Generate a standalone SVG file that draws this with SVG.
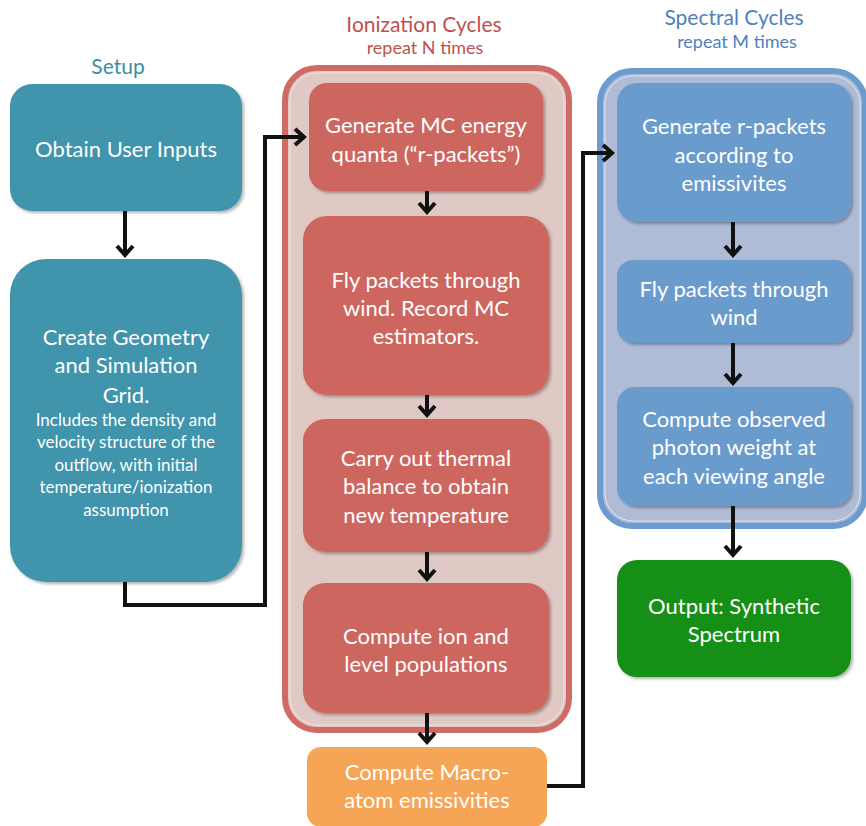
<svg xmlns="http://www.w3.org/2000/svg" width="866" height="826" viewBox="0 0 866 826">
<defs>
<filter id="sh" x="-10%" y="-10%" width="120%" height="120%">
<feDropShadow dx="2" dy="2" stdDeviation="1.5" flood-color="#000" flood-opacity="0.3"/>
</filter>
<marker id="arr" markerUnits="userSpaceOnUse" markerWidth="24" markerHeight="24" viewBox="-12 -12 24 24" refX="1" refY="0" orient="auto">
<path d="M-9,-8 L0,0 L-9,8" fill="none" stroke="#111" stroke-width="4"/>
</marker>
</defs>
<style>
text{font-family:Lato,"Liberation Sans",sans-serif;fill:#fff;text-anchor:middle}
.t{font-size:22px}
.s{font-size:17px}
.h{font-size:21px}
.sub{font-size:18px}
.c{fill:none;stroke:#111;stroke-width:4}
.teal{fill:#4094ac}
.red{fill:#cd665f}
.blue{fill:#6b9bcd}
</style>
<g id="labels">
<text class="h" x="118" y="74" style="fill:#3d8ea3">Setup</text>
<text class="h" x="424" y="32" style="fill:#c0504d">Ionization Cycles</text>
<text class="sub" x="425" y="54" style="fill:#c0504d">repeat N times</text>
<text class="h" x="734" y="25" style="fill:#4f81bd">Spectral Cycles</text>
<text class="sub" x="737" y="48" style="fill:#4f81bd">repeat M times</text>
</g>
<g id="ionization-container">
<rect x="285" y="68" width="284" height="662" rx="32" fill="#e0c9c4" stroke="#cf6b64" stroke-width="6"/>
<rect x="290" y="73" width="274" height="652" rx="28" fill="none" stroke="#f2e4e1" stroke-width="1"/>
</g>
<g id="spectral-container">
<rect x="600" y="71" width="265" height="455" rx="32" fill="#b0bcd6" stroke="#6c9bd0" stroke-width="6"/>
<rect x="605" y="76" width="255" height="445" rx="28" fill="none" stroke="#dfe5f0" stroke-width="1"/>
</g>
<g id="connectors">
<line class="c" x1="125" y1="211" x2="125" y2="256" marker-end="url(#arr)"/>
<polyline class="c" points="125,582 125,605 265,605 265,137 305,137" marker-end="url(#arr)"/>
<line class="c" x1="427" y1="191" x2="427" y2="213" marker-end="url(#arr)"/>
<line class="c" x1="427" y1="395" x2="427" y2="416" marker-end="url(#arr)"/>
<line class="c" x1="427" y1="552" x2="427" y2="580" marker-end="url(#arr)"/>
<line class="c" x1="427" y1="713" x2="427" y2="743" marker-end="url(#arr)"/>
<polyline class="c" points="547,786 583,786 583,153 613,153" marker-end="url(#arr)"/>
<line class="c" x1="733" y1="222" x2="733" y2="256" marker-end="url(#arr)"/>
<line class="c" x1="733" y1="343" x2="733" y2="384" marker-end="url(#arr)"/>
<line class="c" x1="733" y1="506" x2="733" y2="556" marker-end="url(#arr)"/>
</g>
<g id="obtain-inputs">
<rect class="teal" x="10" y="84" width="232" height="127" rx="22" filter="url(#sh)"/>
<text class="t" x="126" y="157">Obtain User Inputs</text>
</g>
<g id="create-geometry">
<rect class="teal" x="10" y="259" width="232" height="323" rx="36" filter="url(#sh)"/>
<text class="t" x="126" y="345">Create Geometry</text>
<text class="t" x="126" y="373">and Simulation</text>
<text class="t" x="126" y="403">Grid.</text>
<text class="s" x="126" y="426">Includes the density and</text>
<text class="s" x="126" y="448">velocity structure of the</text>
<text class="s" x="126" y="471">outflow, with initial</text>
<text class="s" x="126" y="493">temperature/ionization</text>
<text class="s" x="126" y="516">assumption</text>
</g>
<g id="generate-mc">
<rect class="red" x="309" y="83" width="234" height="108" rx="18" filter="url(#sh)"/>
<text class="t" x="426" y="133">Generate MC energy</text>
<text class="t" x="426" y="162">quanta (“r-packets”)</text>
</g>
<g id="fly-packets">
<rect class="red" x="303" y="216" width="246" height="179" rx="24" filter="url(#sh)"/>
<text class="t" x="426" y="288">Fly packets through</text>
<text class="t" x="426" y="316">wind. Record MC</text>
<text class="t" x="426" y="344">estimators.</text>
</g>
<g id="thermal-balance">
<rect class="red" x="303" y="419" width="246" height="133" rx="22" filter="url(#sh)"/>
<text class="t" x="426" y="466">Carry out thermal</text>
<text class="t" x="426" y="494">balance to obtain</text>
<text class="t" x="426" y="523">new temperature</text>
</g>
<g id="ion-populations">
<rect class="red" x="303" y="583" width="246" height="130" rx="22" filter="url(#sh)"/>
<text class="t" x="426" y="644">Compute ion and</text>
<text class="t" x="426" y="672">level populations</text>
</g>
<g id="macro-atom">
<rect x="307" y="747" width="240" height="80" rx="14" fill="#f6a456"/>
<text class="t" x="427" y="780">Compute Macro-</text>
<text class="t" x="427" y="808">atom emissivities</text>
</g>
<g id="generate-r">
<rect class="blue" x="617" y="83" width="234" height="139" rx="20" filter="url(#sh)"/>
<text class="t" x="734" y="134">Generate r-packets</text>
<text class="t" x="734" y="163">according to</text>
<text class="t" x="734" y="191">emissivites</text>
</g>
<g id="fly-wind">
<rect class="blue" x="617" y="260" width="234" height="83" rx="16" filter="url(#sh)"/>
<text class="t" x="734" y="297">Fly packets through</text>
<text class="t" x="734" y="325">wind</text>
</g>
<g id="observed-weight">
<rect class="blue" x="617" y="387" width="234" height="119" rx="18" filter="url(#sh)"/>
<text class="t" x="734" y="427">Compute observed</text>
<text class="t" x="734" y="455">photon weight at</text>
<text class="t" x="734" y="484">each viewing angle</text>
</g>
<g id="output">
<rect x="617" y="560" width="234" height="117" rx="20" fill="#128f17" filter="url(#sh)"/>
<text class="t" x="734" y="614">Output: Synthetic</text>
<text class="t" x="734" y="642">Spectrum</text>
</g>
</svg>
